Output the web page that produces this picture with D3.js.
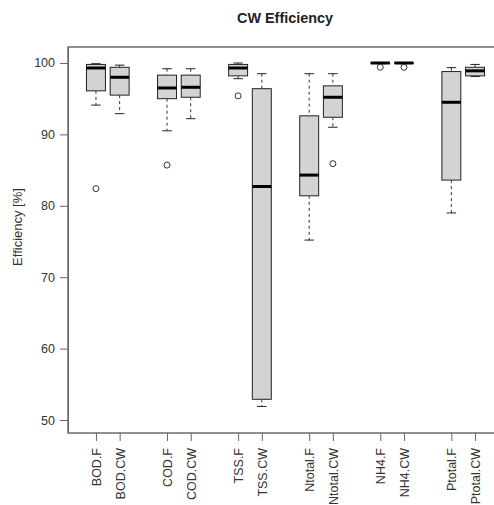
<!DOCTYPE html>
<html>
<head>
<meta charset="utf-8">
<script src="https://cdn.jsdelivr.net/npm/d3@7"></script>
<style>
  body { margin: 0; background: #fff; }
  text { font-family: "Liberation Sans", Arial, sans-serif; }
</style>
</head>
<body>
<div id="chart"></div>
<script>
// values
var categories = ["BOD.F", "BOD.CW", "COD.F", "COD.CW", "TSS.F", "TSS.CW",
                  "Ntotal.F", "Ntotal.CW", "NH4.F", "NH4.CW", "Ptotal.F", "Ptotal.CW"];
var whiskerLow  = [94.1, 92.9, 90.5, 92.2, 97.8, 51.9, 75.2, 91.0, 99.9, 99.9, 79.0, 98.1];
var q1          = [96.1, 95.5, 95.0, 95.2, 98.2, 52.9, 81.4, 92.4, 99.95, 99.95, 83.6, 98.2];
var medians     = [99.3, 98.0, 96.5, 96.6, 99.3, 82.7, 84.3, 95.2, 100, 100, 94.5, 98.9];
var q3          = [99.8, 99.4, 98.3, 98.3, 99.8, 96.4, 92.6, 96.8, 100, 100, 98.8, 99.4];
var whiskerHigh = [99.9, 99.7, 99.2, 99.2, 100, 98.5, 98.5, 98.5, 100, 100, 99.35, 99.8];
var outliers = [
  { cat: "BOD.F", value: 82.4 },
  { cat: "COD.F", value: 85.7 },
  { cat: "TSS.F", value: 95.4 },
  { cat: "Ntotal.CW", value: 85.9 },
  { cat: "NH4.F", value: 99.4 },
  { cat: "NH4.CW", value: 99.4 }
];
var yTicks = [50, 60, 70, 80, 90, 100];

var width = 494,
    height = 505;

var boxes = categories.map(function(c, i) {
  return { cat: c, pos: i + Math.floor(i / 2) + 1,
           lo: whiskerLow[i], q1: q1[i], med: medians[i], q3: q3[i], hi: whiskerHigh[i] };
});
var posOf = {};
boxes.forEach(function(b) { posOf[b.cat] = b.pos; });

var x = d3.scaleLinear().domain([-0.18, 18.18]).range([68, 503]);
var y = d3.scaleLinear().domain([48.18, 102.24]).range([433, 47]);
var unit = x(1) - x(0);
var boxW = unit * 0.8,
    capW = boxW * 0.5;

var svg = d3.select("#chart")
    .append("svg")
    .attr("width", width)
    .attr("height", height);

// title

svg.append("text")
    .attr("x", 285)
    .attr("y", 23)
    .attr("text-anchor", "middle")
    .attr("font-size", "14.4px")
    .attr("font-weight", "bold")
    .attr("fill", "#222")
    .text("CW Efficiency");

// boxes

var g = svg.append("g");

var box = g.selectAll("g.box")
    .data(boxes)
    .enter().append("g")
    .attr("class", "box");

box.append("line")
    .attr("x1", function(d) { return x(d.pos) })
    .attr("x2", function(d) { return x(d.pos) })
    .attr("y1", function(d) { return y(d.hi) })
    .attr("y2", function(d) { return y(d.q3) })
    .attr("stroke", "#333")
    .attr("stroke-dasharray", "3,3");

box.append("line")
    .attr("x1", function(d) { return x(d.pos) })
    .attr("x2", function(d) { return x(d.pos) })
    .attr("y1", function(d) { return y(d.q1) })
    .attr("y2", function(d) { return y(d.lo) })
    .attr("stroke", "#333")
    .attr("stroke-dasharray", "3,3");

box.selectAll("line.cap")
    .data(function(d) { return [{ pos: d.pos, v: d.hi }, { pos: d.pos, v: d.lo }] })
    .enter().append("line")
    .attr("class", "cap")
    .attr("x1", function(d) { return x(d.pos) - capW / 2 })
    .attr("x2", function(d) { return x(d.pos) + capW / 2 })
    .attr("y1", function(d) { return y(d.v) })
    .attr("y2", function(d) { return y(d.v) })
    .attr("stroke", "#222");

box.append("rect")
    .attr("x", function(d) { return x(d.pos) - boxW / 2 })
    .attr("y", function(d) { return y(d.q3) })
    .attr("width", boxW)
    .attr("height", function(d) { return Math.max(0, y(d.q1) - y(d.q3)) })
    .attr("fill", "#d3d3d3")
    .attr("stroke", "#222");

box.append("line")
    .attr("x1", function(d) { return x(d.pos) - boxW / 2 })
    .attr("x2", function(d) { return x(d.pos) + boxW / 2 })
    .attr("y1", function(d) { return y(d.med) })
    .attr("y2", function(d) { return y(d.med) })
    .attr("stroke", "#000")
    .attr("stroke-width", 3);

g.selectAll("circle")
    .data(outliers)
    .enter().append("circle")
    .attr("cx", function(d) { return x(posOf[d.cat]) })
    .attr("cy", function(d) { return y(d.value) })
    .attr("r", 3)
    .attr("fill", "none")
    .attr("stroke", "#333");

// plot frame

svg.append("rect")
    .attr("x", x.range()[0])
    .attr("y", y.range()[1])
    .attr("width", x.range()[1] - x.range()[0])
    .attr("height", y.range()[0] - y.range()[1])
    .attr("fill", "none")
    .attr("stroke", "#222");

// y axis

var yAxis = svg.append("g")
    .attr("transform", "translate(68,0)")
    .call(d3.axisLeft(y).tickValues(yTicks).tickSize(8).tickPadding(5).tickSizeOuter(0));
yAxis.select(".domain").attr("stroke", "#666");
yAxis.selectAll(".tick line").attr("stroke", "#666");
yAxis.selectAll(".tick text")
    .attr("font-size", "12.5px")
    .attr("font-family", "Liberation Sans, Arial, sans-serif")
    .attr("fill", "#333");

svg.append("text")
    .attr("transform", "translate(22,227) rotate(-90)")
    .attr("text-anchor", "middle")
    .attr("font-size", "13px")
    .attr("fill", "#333")
    .text("Efficiency [%]");

// x axis

var xAxis = svg.append("g")
    .attr("transform", "translate(0,433)")
    .call(d3.axisBottom(x).tickValues(boxes.map(function(d) { return d.pos }))
      .tickFormat(function(p) { return boxes.find(function(b) { return b.pos === p }).cat })
      .tickSize(8).tickSizeOuter(0));
xAxis.select(".domain").remove();
xAxis.selectAll(".tick line").attr("stroke", "#666");
xAxis.selectAll(".tick text")
    .attr("font-size", "12.5px")
    .attr("font-family", "Liberation Sans, Arial, sans-serif")
    .attr("fill", "#333")
    .attr("text-anchor", "end")
    .attr("transform", "rotate(-90)")
    .attr("x", -15)
    .attr("y", 0)
    .attr("dy", "0.35em");
</script>
</body>
</html>
